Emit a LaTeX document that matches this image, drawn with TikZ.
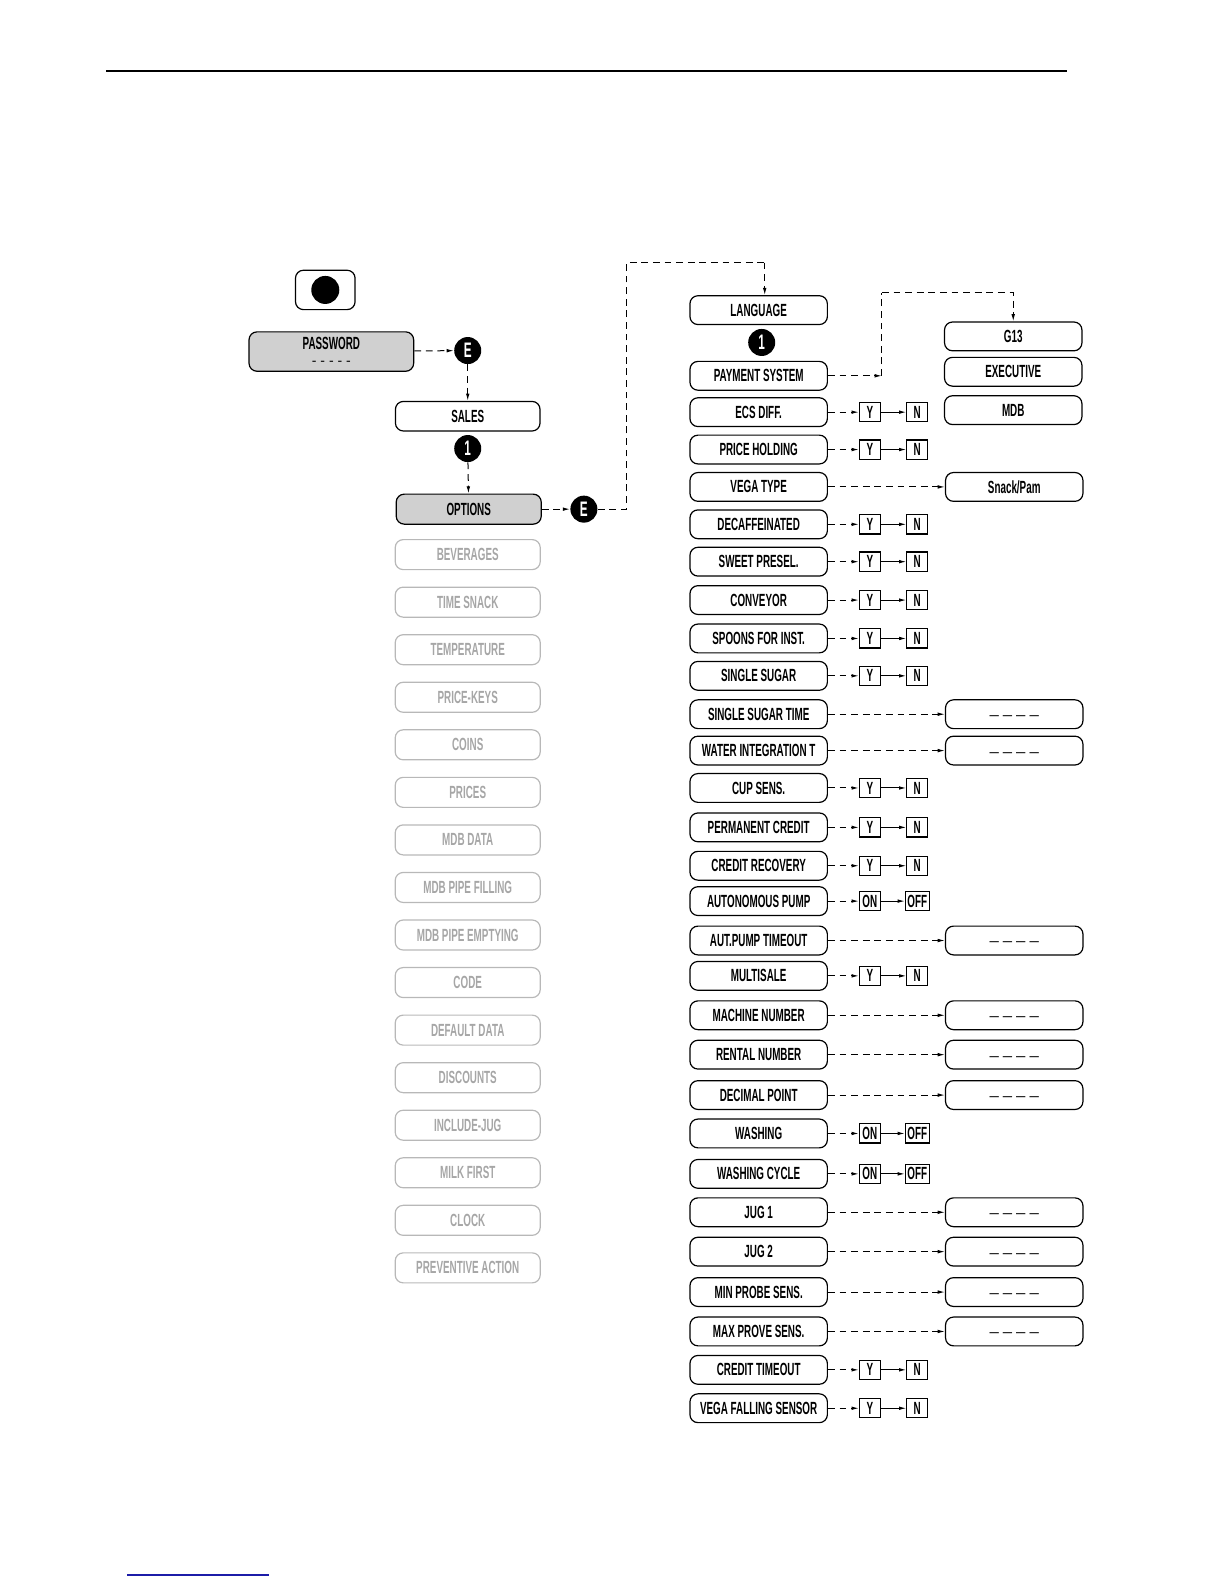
\documentclass[tikz,border=0pt]{standalone}
\usepackage{fontspec}
\setmainfont{Liberation Sans}
\newfontfamily\menufont[FakeStretch=0.56]{Liberation Sans Bold}
\usepackage{tikz}
\usetikzlibrary{arrows.meta, positioning}
\definecolor{linkblue}{HTML}{1C1CA8}
\definecolor{keygray}{HTML}{D0D0D0}

\begin{document}
\begin{tikzpicture}[x=0.505pt, y=-0.505pt,
  menubox/.style={draw, line width=0.6pt, rounded corners=4pt, minimum width=68.7pt,
    minimum height=14.4pt, inner sep=0pt, font=\menufont\fontsize{8.8}{9}\selectfont},
  offbox/.style={menubox, draw=black!28, text=black!35, minimum width=72.5pt, minimum height=15pt},
  keybox/.style={menubox, fill=keygray, minimum width=72.5pt, minimum height=15pt},
  valbox/.style={menubox},
  ynbox/.style={draw, line width=0.6pt, minimum width=10.4pt, minimum height=9.6pt, inner sep=1pt,
    font=\menufont\fontsize{8.8}{9}\selectfont},
  keydot/.style={circle, fill=black, minimum size=13.5pt, inner sep=0pt, text=white,
    font=\menufont\fontsize{10.5}{10}\selectfont},
  dasharrow/.style={dashed, dash pattern=on 3.4pt off 2.4pt, line width=0.5pt,
    -{Latex[length=3.6pt, width=1.8pt]}},
  dashline/.style={dashed, dash pattern=on 3.4pt off 2.4pt, line width=0.5pt},
  solidarrow/.style={line width=0.5pt, -{Latex[length=3.6pt, width=1.8pt]}}]
\useasboundingbox (0,0) rectangle (1212,1568);

% page rules
\draw[line width=1pt] (105,70) -- (1056,70);
\draw[linkblue, line width=0.8pt] (126,1559) -- (266,1559);

% key and entry menus
\node[draw, line width=0.6pt, rounded corners=4pt, minimum width=29.8pt, minimum height=19.7pt] (button) at (322,287) {};
\fill (button.center) circle (7pt);
\node[keybox, minimum width=82.3pt, minimum height=19.7pt, align=center] (pw) at (328,348)
  {PASSWORD\\[-1pt]{\rmfamily\fontsize{7}{7}\selectfont - - - - -}};
\node[keydot] (eone) at (463,347) {E};
\node[menubox, minimum width=72.3pt, minimum height=14.8pt] (sales) at (463,412) {SALES};
\node[keydot] (oneone) at (463,444) {1};
\node[keybox] (options) at (464,504) {OPTIONS};
\node[keydot] (etwo) at (578,504) {E};
\draw[dasharrow] (pw) -- (eone);
\draw[dasharrow] (eone) -- (sales);
\draw[dasharrow] (oneone) -- (options);
\draw[dasharrow] (options) -- (etwo);

% greyed option menus
\foreach \lbl [count=\i from 0] in {BEVERAGES, TIME SNACK, TEMPERATURE, PRICE-KEYS, COINS, PRICES,
    MDB DATA, MDB PIPE FILLING, MDB PIPE EMPTYING, CODE, DEFAULT DATA, DISCOUNTS, INCLUDE-JUG,
    MILK FIRST, CLOCK, PREVENTIVE ACTION}
  \node[offbox] (off\i) at (463,{549+47.07*\i}) {\lbl};

% options list
\foreach \nm/\yy/\lbl in {lang/307/LANGUAGE, pay/372/PAYMENT SYSTEM, ecs/408/ECS DIFF.,
    price/445/PRICE HOLDING, vega/482/VEGA TYPE, decaf/519/DECAFFEINATED, sweet/556/SWEET PRESEL.,
    conv/594/CONVEYOR, spoons/632/SPOONS FOR INST., ssugar/669/SINGLE SUGAR,
    ssugart/707/SINGLE SUGAR TIME, water/743/WATER INTEGRATION T, cup/780/CUP SENS.,
    permcr/819/PERMANENT CREDIT, credrec/857/CREDIT RECOVERY, autpump/892/AUTONOMOUS PUMP,
    autpto/931/AUT.PUMP TIMEOUT, multi/966/MULTISALE, machno/1005/MACHINE NUMBER,
    rentno/1044/RENTAL NUMBER, decpt/1084/DECIMAL POINT, wash/1122/WASHING,
    washcyc/1162/WASHING CYCLE, jugone/1200/JUG 1, jugtwo/1239/JUG 2,
    minprobe/1279/MIN PROBE SENS., maxprove/1318/MAX PROVE SENS., credto/1356/CREDIT TIMEOUT,
    vegafall/1394/VEGA FALLING SENSOR}
  \node[menubox] (\nm) at (751,\yy) {\lbl};
\node[keydot] (onetwo) at (754,339) {1};

% entry into the options list
\coordinate (optup) at (620,260);
\coordinate (langin) at (757,260);
\draw[dashline] (etwo) -| (optup) -- (langin);
\draw[dasharrow] (langin) -- (langin |- lang.north);

% payment systems
\node[menubox] (g13) at (1003,333) {G13};
\node[menubox] (exec) at (1003,368) {EXECUTIVE};
\node[menubox] (mdb) at (1003,406) {MDB};
\coordinate (paycorner) at (873,372);
\coordinate (paytop) at (873,290);
\draw[dasharrow] (pay) -- (paycorner);
\draw[dashline] (paycorner) -- (paytop);
\draw[dasharrow] (paytop) -| (g13);

% yes/no and on/off choices
\foreach \nm/\ya/\yb in {ecs/Y/N, price/Y/N, decaf/Y/N, sweet/Y/N, conv/Y/N, spoons/Y/N,
    ssugar/Y/N, cup/Y/N, permcr/Y/N, credrec/Y/N, autpump/ON/OFF, multi/Y/N, wash/ON/OFF,
    washcyc/ON/OFF, credto/Y/N, vegafall/Y/N} {
  \node[ynbox] (\nm-a) at (861,0 |- \nm) {\ya};
  \node[ynbox] (\nm-b) at (908,0 |- \nm) {\yb};
  \draw[dasharrow] (\nm) -- (\nm-a);
  \draw[solidarrow] (\nm-a) -- (\nm-b);
}

% value entries
\node[valbox] (vega-v) at (1004,0 |- vega) {Snack/Pam};
\draw[dasharrow] (vega) -- (vega-v);
\foreach \nm in {ssugart, water, autpto, machno, rentno, decpt, jugone, jugtwo, minprobe, maxprove} {
  \node[valbox] (\nm-v) at (1004,0 |- \nm)
    {\raisebox{-1pt}{\rmfamily\fontsize{8}{8}\selectfont\_\hspace{2.2pt}\_\hspace{2.2pt}\_\hspace{2.2pt}\_}};
  \draw[dasharrow] (\nm) -- (\nm-v);
}
\end{tikzpicture}
\end{document}
